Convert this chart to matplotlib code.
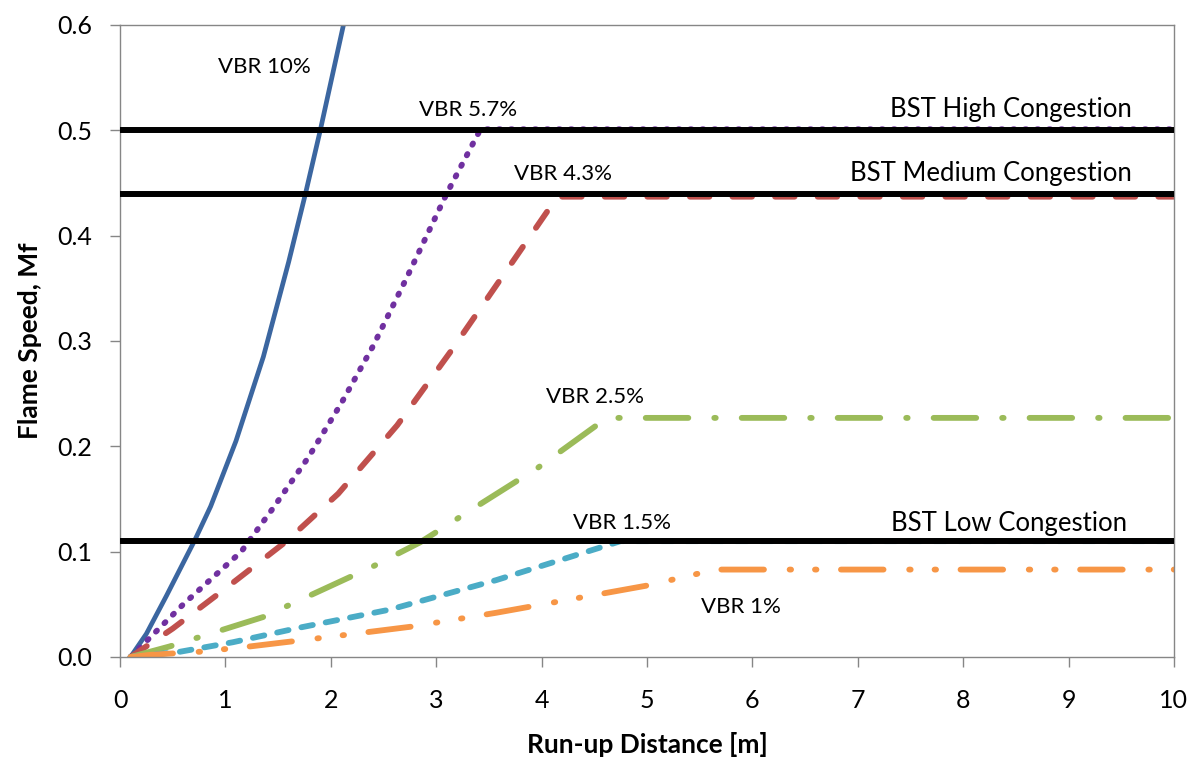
import matplotlib
matplotlib.use("Agg")
import matplotlib.pyplot as plt

plt.rcParams["font.family"] = ["Lato", "DejaVu Sans"]

# curve data (run-up distance [m], flame speed Mf)
vbr10_x = [0.1, 0.25, 0.44, 0.71, 0.86, 1.1, 1.36, 1.6, 1.76, 1.9, 2.12]
vbr10_y = [0.0, 0.022, 0.058, 0.111, 0.143, 0.205, 0.285, 0.375, 0.44, 0.5, 0.6]

vbr57_x = [0.1, 0.19, 0.6, 1.15, 1.45, 1.79, 2.1, 2.4, 2.72, 3.1, 3.42, 10.0]
vbr57_y = [0.0, 0.009, 0.05, 0.1, 0.141, 0.19, 0.241, 0.295, 0.36, 0.44, 0.501, 0.501]

vbr43_x = [0.1, 0.5, 1.0, 1.58, 2.07, 2.63, 3.13, 3.62, 4.15, 10.0]
vbr43_y = [0.0, 0.027, 0.065, 0.11, 0.155, 0.22, 0.289, 0.36, 0.437, 0.437]

vbr25_x = [0.1, 0.47, 1.36, 2.4, 2.85, 3.4, 3.97, 4.55, 4.62, 10.0]
vbr25_y = [0.0, 0.01, 0.038, 0.086, 0.109, 0.144, 0.18, 0.222, 0.227, 0.227]

vbr15_x = [0.1, 0.57, 1.07, 1.71, 2.56, 3.57, 4.75, 10.0]
vbr15_y = [0.0, 0.005, 0.014, 0.028, 0.045, 0.073, 0.11, 0.11]

vbr1_x = [0.1, 0.28, 0.76, 1.23, 1.9, 2.78, 3.57, 5.01, 5.65, 10.0]
vbr1_y = [0.0, 0.002, 0.005, 0.01, 0.018, 0.029, 0.042, 0.068, 0.083, 0.083]

bst_levels = [0.5, 0.44, 0.11]
bst_labels = ["BST High Congestion", "BST Medium Congestion", "BST Low Congestion"]
bst_label_pos = [(9.6, 0.52), (9.6, 0.459), (9.56, 0.127)]

vbr_labels = ["VBR 10%", "VBR 5.7%", "VBR 4.3%", "VBR 2.5%", "VBR 1.5%", "VBR 1%"]
vbr_label_pos = [(1.37, 0.56), (3.3, 0.519), (4.2, 0.459), (4.51, 0.247), (4.76, 0.127), (5.89, 0.047)]

x_ticks = list(range(0, 11))
y_ticks = [0.0, 0.1, 0.2, 0.3, 0.4, 0.5, 0.6]

fig = plt.figure(figsize=(11.99, 7.62), dpi=100)
ax = fig.add_axes([0.1001, 0.1378, 0.8790, 0.8294])

lw = 4.2
curves = [
    (vbr10_x, vbr10_y, "#3B66A0", "-", 3.4),
    (vbr57_x, vbr57_y, "#7030A0", (0, (0.25, 1.8)), lw),
    (vbr43_x, vbr43_y, "#C0504D", (0, (3.35, 3.95)), lw),
    (vbr25_x, vbr25_y, "#9BBB59", (0, (7.3, 4.45, 0.25, 4.45)), lw),
    (vbr15_x, vbr15_y, "#4BACC6", (0, (2.0, 2.25)), lw),
    (vbr1_x, vbr1_y, "#F79646", (0, (7.3, 4.4, 0.25, 4.1, 0.25, 4.2)), lw),
]
for xs, ys, color, style, width in curves:
    ax.plot(xs, ys, color=color, linestyle=style, linewidth=width,
            dash_capstyle="round", solid_capstyle="round", zorder=2)

for level in bst_levels:
    ax.axhline(level, color="black", linewidth=4.3, zorder=3)

for text, (tx, ty) in zip(bst_labels, bst_label_pos):
    ax.text(tx, ty, text, ha="right", va="center", fontsize=18.5, color="black")

for text, (tx, ty) in zip(vbr_labels, vbr_label_pos):
    ax.text(tx, ty, text, ha="center", va="center", fontsize=16, color="black")

ax.set_xlim(0, 10)
ax.set_ylim(0, 0.6)
ax.set_xticks(x_ticks)
ax.set_yticks(y_ticks)
ax.set_yticklabels([f"{v:.1f}" for v in y_ticks])
ax.tick_params(axis="both", direction="out", length=7, width=1, color="#868686",
               labelsize=18, labelcolor="black")
ax.tick_params(axis="x", pad=16)
ax.tick_params(axis="y", pad=13)

for side in ["left", "bottom", "top", "right"]:
    ax.spines[side].set_color("#868686")
    ax.spines[side].set_linewidth(1)

ax.set_xlabel("Run-up Distance [m]", fontsize=19, fontweight="bold", va="center")
ax.set_ylabel("Flame Speed, Mf", fontsize=19, fontweight="bold", va="center")
ax.xaxis.set_label_coords(0.5, -0.139)
ax.yaxis.set_label_coords(-0.0854, 0.5)

fig.savefig("out.png", dpi=100)
